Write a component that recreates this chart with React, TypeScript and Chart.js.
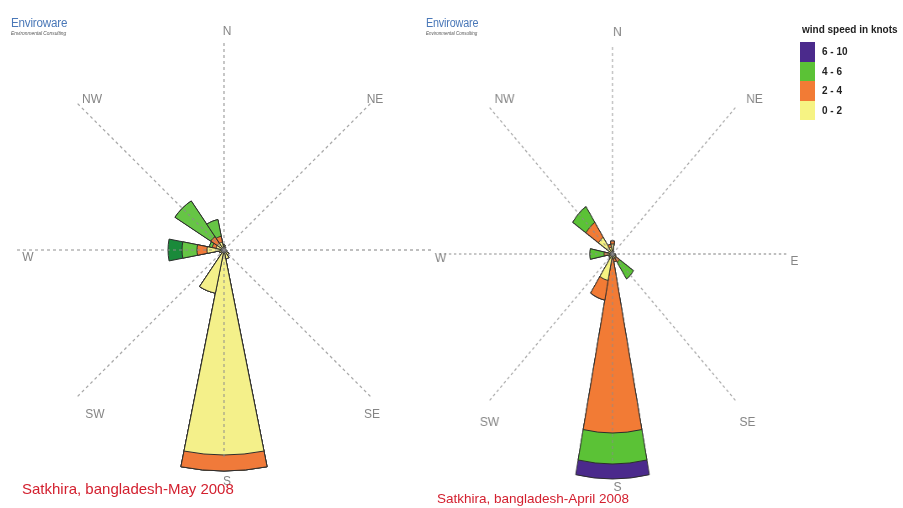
import React, { useEffect, useRef } from 'react';
import { Chart, registerables } from 'chart.js';

Chart.register(...registerables);

// 16 compass sectors, clockwise from North
const directions = ['N', 'NNE', 'NE', 'ENE', 'E', 'ESE', 'SE', 'SSE', 'S', 'SSW', 'SW', 'WSW', 'W', 'WNW', 'NW', 'NNW'];
const speedBins = ['0 - 2', '2 - 4', '4 - 6', '6 - 10'];
const R_MAX = 48; // % frequency at the edge of the scale
const AXIS_VALUE = 42; // length of the dashed compass lines

// Satkhira, May 2008 — frequency (%) per speed class and direction
const may0to2 = [1.0, 0.6, 0.3, 0.2, 0.4, 0.6, 1.2, 1.8, 41.0, 8.8, 0.8, 1.0, 3.4, 1.6, 1.6, 1.6];
const may2to4 = [0, 0, 0, 0, 0, 0, 0, 0, 3.2, 0, 0, 0, 2.0, 0.8, 1.6, 1.2];
const may4to6 = [0, 0, 0, 0, 0, 0, 0, 0, 0, 0, 0, 0, 3.0, 0.6, 8.6, 3.4];
const may6to10 = [0, 0, 0, 0, 0, 0, 0, 0, 0, 0, 0, 0, 2.8, 0, 0, 0];

// Satkhira, April 2008
const apr0to2 = [2.0, 0.6, 0.4, 0.4, 0.6, 0.8, 1.0, 1.0, 0.8, 5.4, 1.0, 0.8, 1.2, 1.0, 4.0, 1.4];
const apr2to4 = [0.6, 0, 0, 0, 0, 0, 1.0, 0.6, 35.0, 4.0, 0, 0, 0.8, 0, 3.6, 0.6];
const apr4to6 = [0, 0, 0, 0, 0, 0, 4.0, 0, 6.2, 0, 0, 0, 3.4, 0, 3.8, 0];
const apr6to10 = [0, 0, 0, 0, 0, 0, 0, 0, 3.0, 0, 0, 0, 0, 0, 0, 0];

const compassLabels = ['N', 'NE', 'E', 'SE', 'S', 'SW', 'W', 'NW'];

const mayColors = ['#F4F08A', '#F07A3A', '#66C545', '#1A8A3A'];
const aprColors = ['#F6F383', '#F27B35', '#5BC236', '#4B2A8C'];

type Offset = { text: string; dx: number; dy: number };

// label offsets (screen px from the rose centre)
const mayLabelPos: Offset[] = [
  { text: 'N', dx: 3, dy: -218 },
  { text: 'NE', dx: 151, dy: -150 },
  { text: 'SE', dx: 148, dy: 165 },
  { text: 'S', dx: 3, dy: 232 },
  { text: 'SW', dx: -129, dy: 165 },
  { text: 'W', dx: -196, dy: 8 },
  { text: 'NW', dx: -132, dy: -150 },
];
const aprLabelPos: Offset[] = [
  { text: 'N', dx: 5, dy: -221 },
  { text: 'NE', dx: 142, dy: -154 },
  { text: 'E', dx: 182, dy: 8 },
  { text: 'SE', dx: 135, dy: 169 },
  { text: 'S', dx: 5, dy: 234 },
  { text: 'SW', dx: -123, dy: 169 },
  { text: 'W', dx: -172, dy: 5 },
  { text: 'NW', dx: -108, dy: -154 },
];

function cumulative(bins: number[][]): number[][] {
  let acc = new Array(directions.length).fill(0);
  return bins.map((b) => {
    acc = acc.map((v: number, i: number) => v + b[i]);
    return acc;
  });
}

const compassPlugin = {
  id: 'compass',
  afterDatasetsDraw(chart: any, _args: any, opts: any) {
    const scale = chart.scales.r;
    const ctx = chart.ctx;
    const cx = scale.xCenter;
    const cy = scale.yCenter;
    const r = scale.getDistanceFromCenterForValue(opts.axisValue);
    ctx.save();
    ctx.strokeStyle = 'rgba(140,140,140,0.75)';
    ctx.lineWidth = 1.3;
    ctx.setLineDash([3, 3]);
    for (let i = 0; i < compassLabels.length; i++) {
      const a = (i * Math.PI * 2) / compassLabels.length;
      ctx.beginPath();
      ctx.moveTo(cx, cy);
      ctx.lineTo(cx + r * Math.sin(a), cy - r * Math.cos(a));
      ctx.stroke();
    }
    ctx.setLineDash([]);
    ctx.font = '12px "Liberation Sans", Arial, sans-serif';
    ctx.fillStyle = '#858585';
    ctx.textAlign = 'center';
    ctx.textBaseline = 'middle';
    (opts.labels as Offset[]).forEach((l) => {
      ctx.save();
      ctx.translate(cx + l.dx / opts.hScale, cy + l.dy);
      ctx.scale(1 / opts.hScale, 1);
      ctx.fillText(l.text, 0, 0);
      ctx.restore();
    });
    ctx.restore();
  },
};

type RoseProps = {
  bins: number[][];
  colors: string[];
  left: number;
  top: number;
  hScale: number;
  labels: Offset[];
};

function WindRose({ bins, colors, left, top, hScale, labels }: RoseProps) {
  const ref = useRef<HTMLCanvasElement>(null);
  useEffect(() => {
    const canvas = ref.current;
    if (!canvas) return;
    const cum = cumulative(bins);
    const chart = new Chart(canvas, {
      type: 'polarArea',
      data: {
        labels: directions,
        datasets: cum.map((vals, i) => ({
          label: speedBins[i],
          data: vals,
          backgroundColor: colors[i],
          borderColor: '#2d2d2d',
          borderWidth: (c: any) => (c.raw > 0 ? 1 : 0),
        })),
      },
      options: {
        responsive: false,
        animation: false,
        events: [],
        layout: { padding: 0 },
        plugins: {
          legend: { display: false },
          tooltip: { enabled: false },
          compass: { axisValue: AXIS_VALUE, labels, hScale },
        } as any,
        scales: {
          r: {
            min: 0,
            max: R_MAX,
            startAngle: -11.25,
            ticks: { display: false },
            grid: { display: false },
            angleLines: { display: false },
            pointLabels: { display: false },
          },
        },
      },
      plugins: [compassPlugin as any],
    });
    return () => chart.destroy();
  }, []);
  return (
    <canvas
      ref={ref}
      width={480}
      height={480}
      style={{ position: 'absolute', left, top, width: 480 * hScale, height: 480 }}
    />
  );
}

function Logo({ left, top, sx }: { left: number; top: number; sx: number }) {
  return (
    <div style={{ position: 'absolute', left, top, transform: `scaleX(${sx})`, transformOrigin: 'left top' }}>
      <div style={{ font: '12px "Liberation Sans", Arial, sans-serif', lineHeight: '12px', color: '#4A78B8', letterSpacing: '-0.2px' }}>
        Enviroware
      </div>
      <div
        style={{
          font: 'italic 10px "Liberation Sans", Arial, sans-serif',
          lineHeight: '10px',
          color: '#555',
          transform: 'scale(0.5)',
          transformOrigin: 'left top',
          whiteSpace: 'nowrap',
          marginTop: 2,
          width: 140,
        }}
      >
        Environmental Consulting
      </div>
    </div>
  );
}

export default function App() {
  const legendRows = [3, 2, 1, 0];
  return (
    <div
      style={{
        position: 'fixed',
        left: 0,
        top: 0,
        width: 903,
        height: 508,
        overflow: 'hidden',
        background: '#ffffff',
        fontFamily: '"Liberation Sans", Arial, sans-serif',
      }}
    >
      <WindRose bins={[may0to2, may2to4, may4to6, may6to10]} colors={mayColors} left={-16} top={10} hScale={1} labels={mayLabelPos} />
      <WindRose bins={[apr0to2, apr2to4, apr4to6, apr6to10]} colors={aprColors} left={411} top={14} hScale={0.84} labels={aprLabelPos} />
      <Logo left={11} top={17} sx={0.97} />
      <Logo left={426} top={17} sx={0.9} />
      <div style={{ position: 'absolute', left: 22, top: 481, fontSize: 15, lineHeight: '15px', color: '#D3202F', whiteSpace: 'nowrap' }}>
        Satkhira, bangladesh-May 2008
      </div>
      <div style={{ position: 'absolute', left: 437, top: 492, fontSize: 13.5, lineHeight: '13.5px', color: '#D3202F', whiteSpace: 'nowrap' }}>
        Satkhira, bangladesh-April 2008
      </div>
      <div style={{ position: 'absolute', left: 802, top: 24, fontSize: 10, fontWeight: 'bold', lineHeight: '12px', color: '#222', whiteSpace: 'nowrap' }}>
        wind speed in knots
      </div>
      {legendRows.map((bi, k) => (
        <div key={bi} style={{ position: 'absolute', left: 800, top: 42 + k * 19.5, height: 19.5, display: 'flex', alignItems: 'center' }}>
          <div style={{ width: 15, height: 19.5, background: aprColors[bi] }} />
          <div style={{ marginLeft: 7, fontSize: 10, fontWeight: 'bold', color: '#222', whiteSpace: 'nowrap' }}>{speedBins[bi]}</div>
        </div>
      ))}
    </div>
  );
}
